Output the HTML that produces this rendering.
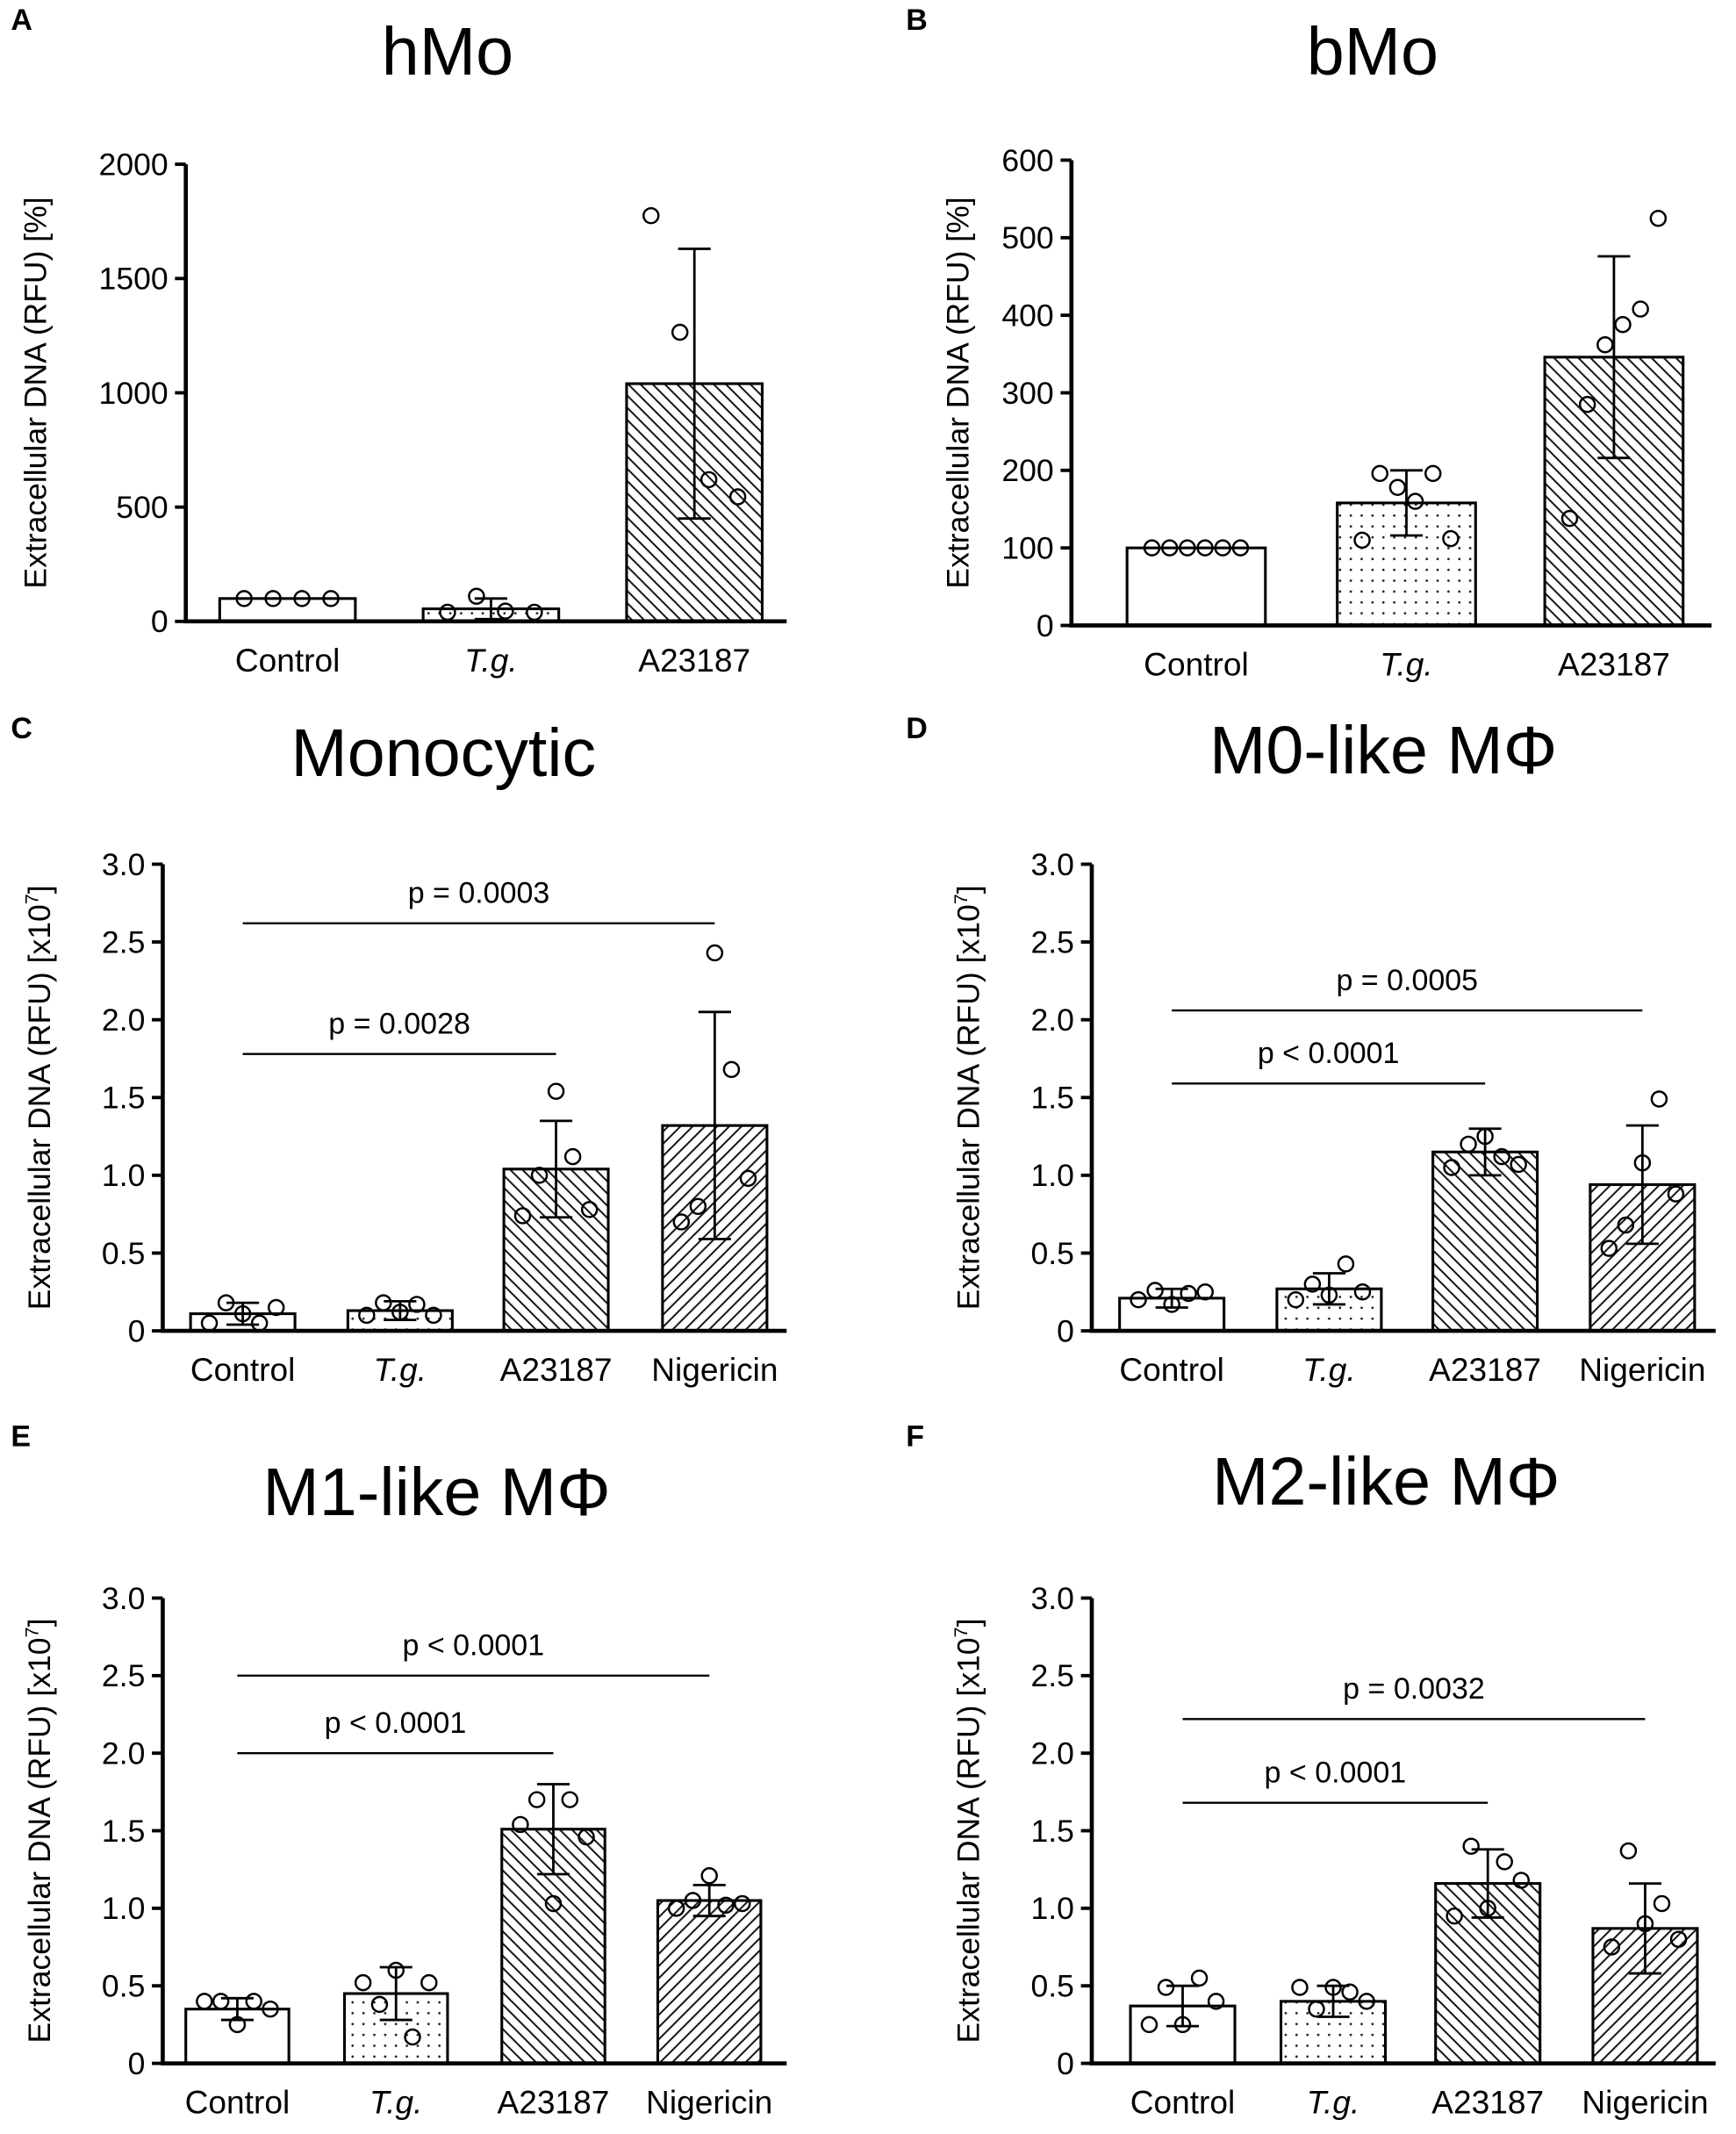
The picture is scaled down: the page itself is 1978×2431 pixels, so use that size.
<!DOCTYPE html>
<html><head><meta charset="utf-8"><style>
html,body{margin:0;padding:0;background:#fff;}
svg{display:block;font-family:"Liberation Sans",sans-serif;}
</style></head><body>
<svg id="fig" width="1978" height="2431" viewBox="0 0 1280 1573" xmlns="http://www.w3.org/2000/svg">
<defs>
<pattern id="dots" patternUnits="userSpaceOnUse" width="8" height="8"><rect width="8" height="8" fill="#fff"/><circle cx="4" cy="4" r="0.9" fill="#222"/></pattern>
<pattern id="back" patternUnits="userSpaceOnUse" width="9" height="9"><rect width="9" height="9" fill="#fff"/><path d="M-2,-2 L11,11 M-2,7 L2,11 M7,-2 L11,2" stroke="#111" stroke-width="1.3"/></pattern>
<pattern id="fwd" patternUnits="userSpaceOnUse" width="9" height="9"><rect width="9" height="9" fill="#fff"/><path d="M-2,11 L11,-2 M-2,2 L2,-2 M7,11 L11,7" stroke="#111" stroke-width="1.3"/></pattern>
</defs>
</svg>
<script>
// Panel data
const catsA = ["Control","T.g.","A23187"];
const meansA = [100, 55, 1040];
const sdA = [0, 45, 590];
const ptsA = [[100,100,100,100],[40,110,45,40],[1775,1265,620,545]];
const ticksA = [0,500,1000,1500,2000];

const catsB = ["Control","T.g.","A23187"];
const meansB = [100, 158, 346];
const sdB = [0, 42, 130];
const ptsB = [[100,100,100,100,100,100],[110,196,178,160,196,112],[138,285,362,388,408,525]];
const ticksB = [0,100,200,300,400,500,600];

const cats4 = ["Control","T.g.","A23187","Nigericin"];
const ticks3 = [0,0.5,1.0,1.5,2.0,2.5,3.0];

const meansC = [0.11, 0.13, 1.04, 1.32];
const sdC = [0.07, 0.06, 0.31, 0.73];
const ptsC = [[0.05,0.18,0.11,0.05,0.15],[0.1,0.18,0.12,0.17,0.1],[0.74,1.0,1.54,1.12,0.78],[0.70,0.80,2.43,1.68,0.98]];
const pC = [["p = 0.0003",2.62,0,3],["p = 0.0028",1.78,0,2]];

const meansD = [0.21, 0.27, 1.15, 0.94];
const sdD = [0.06, 0.1, 0.15, 0.38];
const ptsD = [[0.2,0.26,0.17,0.24,0.25],[0.2,0.3,0.23,0.43,0.25],[1.05,1.2,1.25,1.12,1.07],[0.53,0.68,1.08,1.49,0.88]];
const pD = [["p = 0.0005",2.06,0,3],["p < 0.0001",1.59,0,2]];

const meansE = [0.35, 0.45, 1.51, 1.05];
const sdE = [0.07, 0.17, 0.29, 0.1];
const ptsE = [[0.4,0.4,0.25,0.4,0.35],[0.52,0.38,0.6,0.17,0.52],[1.54,1.7,1.03,1.7,1.46],[1.0,1.05,1.21,1.02,1.03]];
const pE = [["p < 0.0001",2.5,0,3],["p < 0.0001",2.0,0,2]];

const meansF = [0.37, 0.40, 1.16, 0.87];
const sdF = [0.13, 0.1, 0.22, 0.29];
const ptsF = [[0.25,0.49,0.25,0.55,0.4],[0.49,0.35,0.49,0.46,0.4],[0.95,1.4,1.0,1.3,1.18],[0.75,1.37,0.9,1.03,0.8]];
const pF = [["p = 0.0032",2.22,0,3],["p < 0.0001",1.68,0,2]];

const NS="http://www.w3.org/2000/svg";
const svg=document.getElementById('fig');
function el(tag,attrs,parent,text){const e=document.createElementNS(NS,tag);for(const k in attrs)e.setAttribute(k,attrs[k]);if(text!==undefined)e.textContent=text;(parent||svg).appendChild(e);return e;}

function panel(cfg){
  const g=el('g',{});
  
  
  const ymax=cfg.ticks[cfg.ticks.length-1];
  const Y=v=>cfg.y0-(v/ymax)*(cfg.y0-cfg.ytop);
  const lt=el('text',{x:cfg.lx,y:cfg.ly,'font-size':22,'font-weight':'bold'},g,cfg.id);
   
  const t=el('text',{x:cfg.tx,y:cfg.ty,'font-size':50,'text-anchor':'middle'},g,cfg.title);
   
  cfg.cats.forEach((c,i)=>{
    const cx=cfg.centers[i], w=cfg.bw, m=cfg.means[i];
    const fill=c==="T.g."?"url(#dots)":c==="A23187"?"url(#back)":c==="Nigericin"?"url(#fwd)":"#fff";
    const b=el('rect',{x:cx-w/2,y:Y(m),width:w,height:cfg.y0-Y(m),fill:fill,stroke:'#000','stroke-width':2},g);
    
    
    const sd=cfg.sd[i];
    if(sd>0){
      const e=el('path',{d:`M${cx},${Y(m-sd)}V${Y(m+sd)}M${cx-12},${Y(m+sd)}H${cx+12}M${cx-12},${Y(m-sd)}H${cx+12}`,stroke:'#000','stroke-width':1.8,fill:'none'},g);
       
    }
    const pts=cfg.pts[i], n=pts.length, sp=w*0.64/(n-1);
    pts.forEach((v,j)=>{
      const p=el('circle',{cx:cx+(j-(n-1)/2)*sp,cy:Y(v),r:5.5,fill:'none',stroke:'#000','stroke-width':1.6},g);
       
    });
    const lab=el('text',{x:cx,y:cfg.y0+37,'font-size':24,'text-anchor':'middle','font-style':c==="T.g."?'italic':'normal'},g,c);
     
  });
  const ax=el('path',{d:`M${cfg.ax},${cfg.ytop}V${cfg.y0}H${cfg.xend}`,stroke:'#000','stroke-width':3,fill:'none'},g);
   
  cfg.ticks.forEach(v=>{
    el('line',{x1:cfg.ax-8,x2:cfg.ax,y1:Y(v),y2:Y(v),stroke:'#000','stroke-width':2.5},g);
    const s=cfg.dec?(v===0?'0':v.toFixed(1)):String(v);
    const tl=el('text',{x:cfg.ax-13,y:Y(v)+8,'font-size':23,'text-anchor':'end'},g,s);
     
  });
  const my=(cfg.y0+cfg.ytop)/2;
  const yl=el('text',{x:0,y:0,'font-size':23,'text-anchor':'middle',transform:`translate(${cfg.ylx},${my}) rotate(-90)`},g);
   
  if(cfg.dec){el('tspan',{},yl,'Extracellular DNA (RFU) [x10');el('tspan',{dy:-9,'font-size':14},yl,'7');el('tspan',{dy:9},yl,']');}
  else el('tspan',{},yl,'Extracellular DNA (RFU) [%]');
  (cfg.p||[]).forEach(p=>{
    const x1=cfg.centers[p[2]],x2=cfg.centers[p[3]];
    const l=el('line',{x1:x1,x2:x2,y1:Y(p[1]),y2:Y(p[1]),stroke:'#000','stroke-width':1.5},g);
     
    const tt=el('text',{x:(x1+x2)/2,y:Y(p[1])-15,'font-size':22,'text-anchor':'middle'},g,p[0]);
     
  });
}

panel({id:'A',title:'hMo',lx:8,ly:22,tx:330,ty:55,ax:137,xend:580,y0:458,ytop:121,ylx:34,ticks:ticksA,cats:catsA,centers:[212,362,512],bw:100,means:meansA,sd:sdA,pts:ptsA});
panel({id:'B',title:'bMo',lx:668,ly:22,tx:1012,ty:55,ax:790,xend:1262,y0:461,ytop:118,ylx:714,ticks:ticksB,cats:catsB,centers:[882,1037,1190],bw:102,means:meansB,sd:sdB,pts:ptsB});
panel({id:'C',title:'Monocytic',lx:8,ly:544,tx:327,ty:572,ax:120,xend:580,y0:981,ytop:637,ylx:37,dec:true,ticks:ticks3,cats:cats4,centers:[179,295,410,527],bw:77,means:meansC,sd:sdC,pts:ptsC,p:pC});
panel({id:'D',title:'M0-like M\u03A6',lx:668,ly:544,tx:1020,ty:570,ax:805,xend:1265,y0:981,ytop:637,ylx:722,dec:true,ticks:ticks3,cats:cats4,centers:[864,980,1095,1211],bw:77,means:meansD,sd:sdD,pts:ptsD,p:pD});
panel({id:'E',title:'M1-like M\u03A6',lx:8,ly:1066,tx:322,ty:1117,ax:120,xend:580,y0:1521,ytop:1178,ylx:37,dec:true,ticks:ticks3,cats:cats4,centers:[175,292,408,523],bw:76,means:meansE,sd:sdE,pts:ptsE,p:pE});
panel({id:'F',title:'M2-like M\u03A6',lx:668,ly:1066,tx:1022,ty:1109,ax:805,xend:1265,y0:1521,ytop:1178,ylx:722,dec:true,ticks:ticks3,cats:cats4,centers:[872,983,1097,1213],bw:77,means:meansF,sd:sdF,pts:ptsF,p:pF});
</script>
</body></html>
